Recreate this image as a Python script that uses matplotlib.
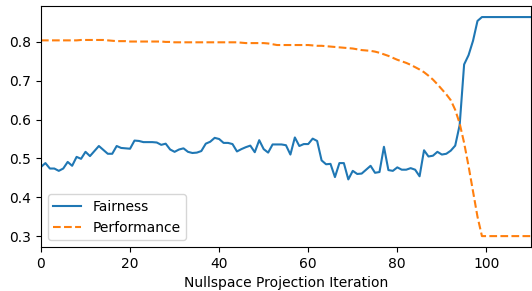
import numpy as np
import matplotlib
matplotlib.use('Agg')
import matplotlib.pyplot as plt

# fairness score per nullspace projection iteration (0..110)
fairness = [0.478, 0.488, 0.474, 0.474, 0.468, 0.474, 0.491, 0.481, 0.504, 0.499,
            0.517, 0.506, 0.519, 0.532, 0.522, 0.512, 0.512, 0.532, 0.527, 0.526,
            0.525, 0.546, 0.545, 0.542, 0.542, 0.542, 0.541, 0.535, 0.538, 0.523,
            0.517, 0.523, 0.526, 0.517, 0.514, 0.515, 0.519, 0.538, 0.543, 0.553,
            0.550, 0.540, 0.540, 0.537, 0.518, 0.524, 0.529, 0.533, 0.516, 0.547,
            0.524, 0.515, 0.536, 0.536, 0.536, 0.534, 0.510, 0.554, 0.532, 0.537,
            0.537, 0.551, 0.545, 0.495, 0.485, 0.486, 0.452, 0.488, 0.488, 0.446,
            0.468, 0.460, 0.461, 0.471, 0.481, 0.463, 0.465, 0.530, 0.470, 0.468,
            0.477, 0.471, 0.471, 0.475, 0.471, 0.454, 0.521, 0.505, 0.507, 0.517,
            0.510, 0.512, 0.520, 0.533, 0.586, 0.742, 0.766, 0.803, 0.854, 0.864,
            0.864, 0.864, 0.864, 0.864, 0.864, 0.864, 0.864, 0.864, 0.864, 0.864,
            0.864]

# performance score per iteration
performance = [0.804, 0.804, 0.804, 0.804, 0.804, 0.804, 0.804, 0.804, 0.804, 0.805,
               0.805, 0.805, 0.805, 0.805, 0.805, 0.804, 0.803, 0.802, 0.802, 0.802,
               0.801, 0.801, 0.801, 0.801, 0.801, 0.801, 0.801, 0.801, 0.800, 0.800,
               0.799, 0.799, 0.799, 0.799, 0.799, 0.799, 0.799, 0.799, 0.799, 0.799,
               0.799, 0.799, 0.799, 0.799, 0.799, 0.798, 0.797, 0.797, 0.797, 0.797,
               0.797, 0.796, 0.794, 0.792, 0.792, 0.792, 0.792, 0.792, 0.792, 0.792,
               0.792, 0.791, 0.790, 0.790, 0.789, 0.788, 0.787, 0.786, 0.785, 0.784,
               0.783, 0.781, 0.779, 0.778, 0.777, 0.775, 0.772, 0.768, 0.764, 0.759,
               0.754, 0.750, 0.746, 0.741, 0.735, 0.729, 0.722, 0.713, 0.703, 0.691,
               0.678, 0.665, 0.650, 0.625, 0.590, 0.540, 0.480, 0.415, 0.350, 0.300,
               0.300, 0.300, 0.300, 0.300, 0.300, 0.300, 0.300, 0.300, 0.300, 0.300,
               0.300]

iterations = np.arange(len(fairness))

fig = plt.figure(figsize=(5.32, 2.91), dpi=100)
ax = fig.add_subplot(111)
ax.plot(iterations, fairness, label='Fairness')
ax.plot(iterations, performance, '--', label='Performance')
ax.set_xlim(0, 110)
ax.set_xlabel('Nullspace Projection Iteration')
ax.legend(loc='lower left')
fig.subplots_adjust(left=0.077, right=0.998, top=0.979, bottom=0.151)

fig.savefig('out.png', dpi=100)
